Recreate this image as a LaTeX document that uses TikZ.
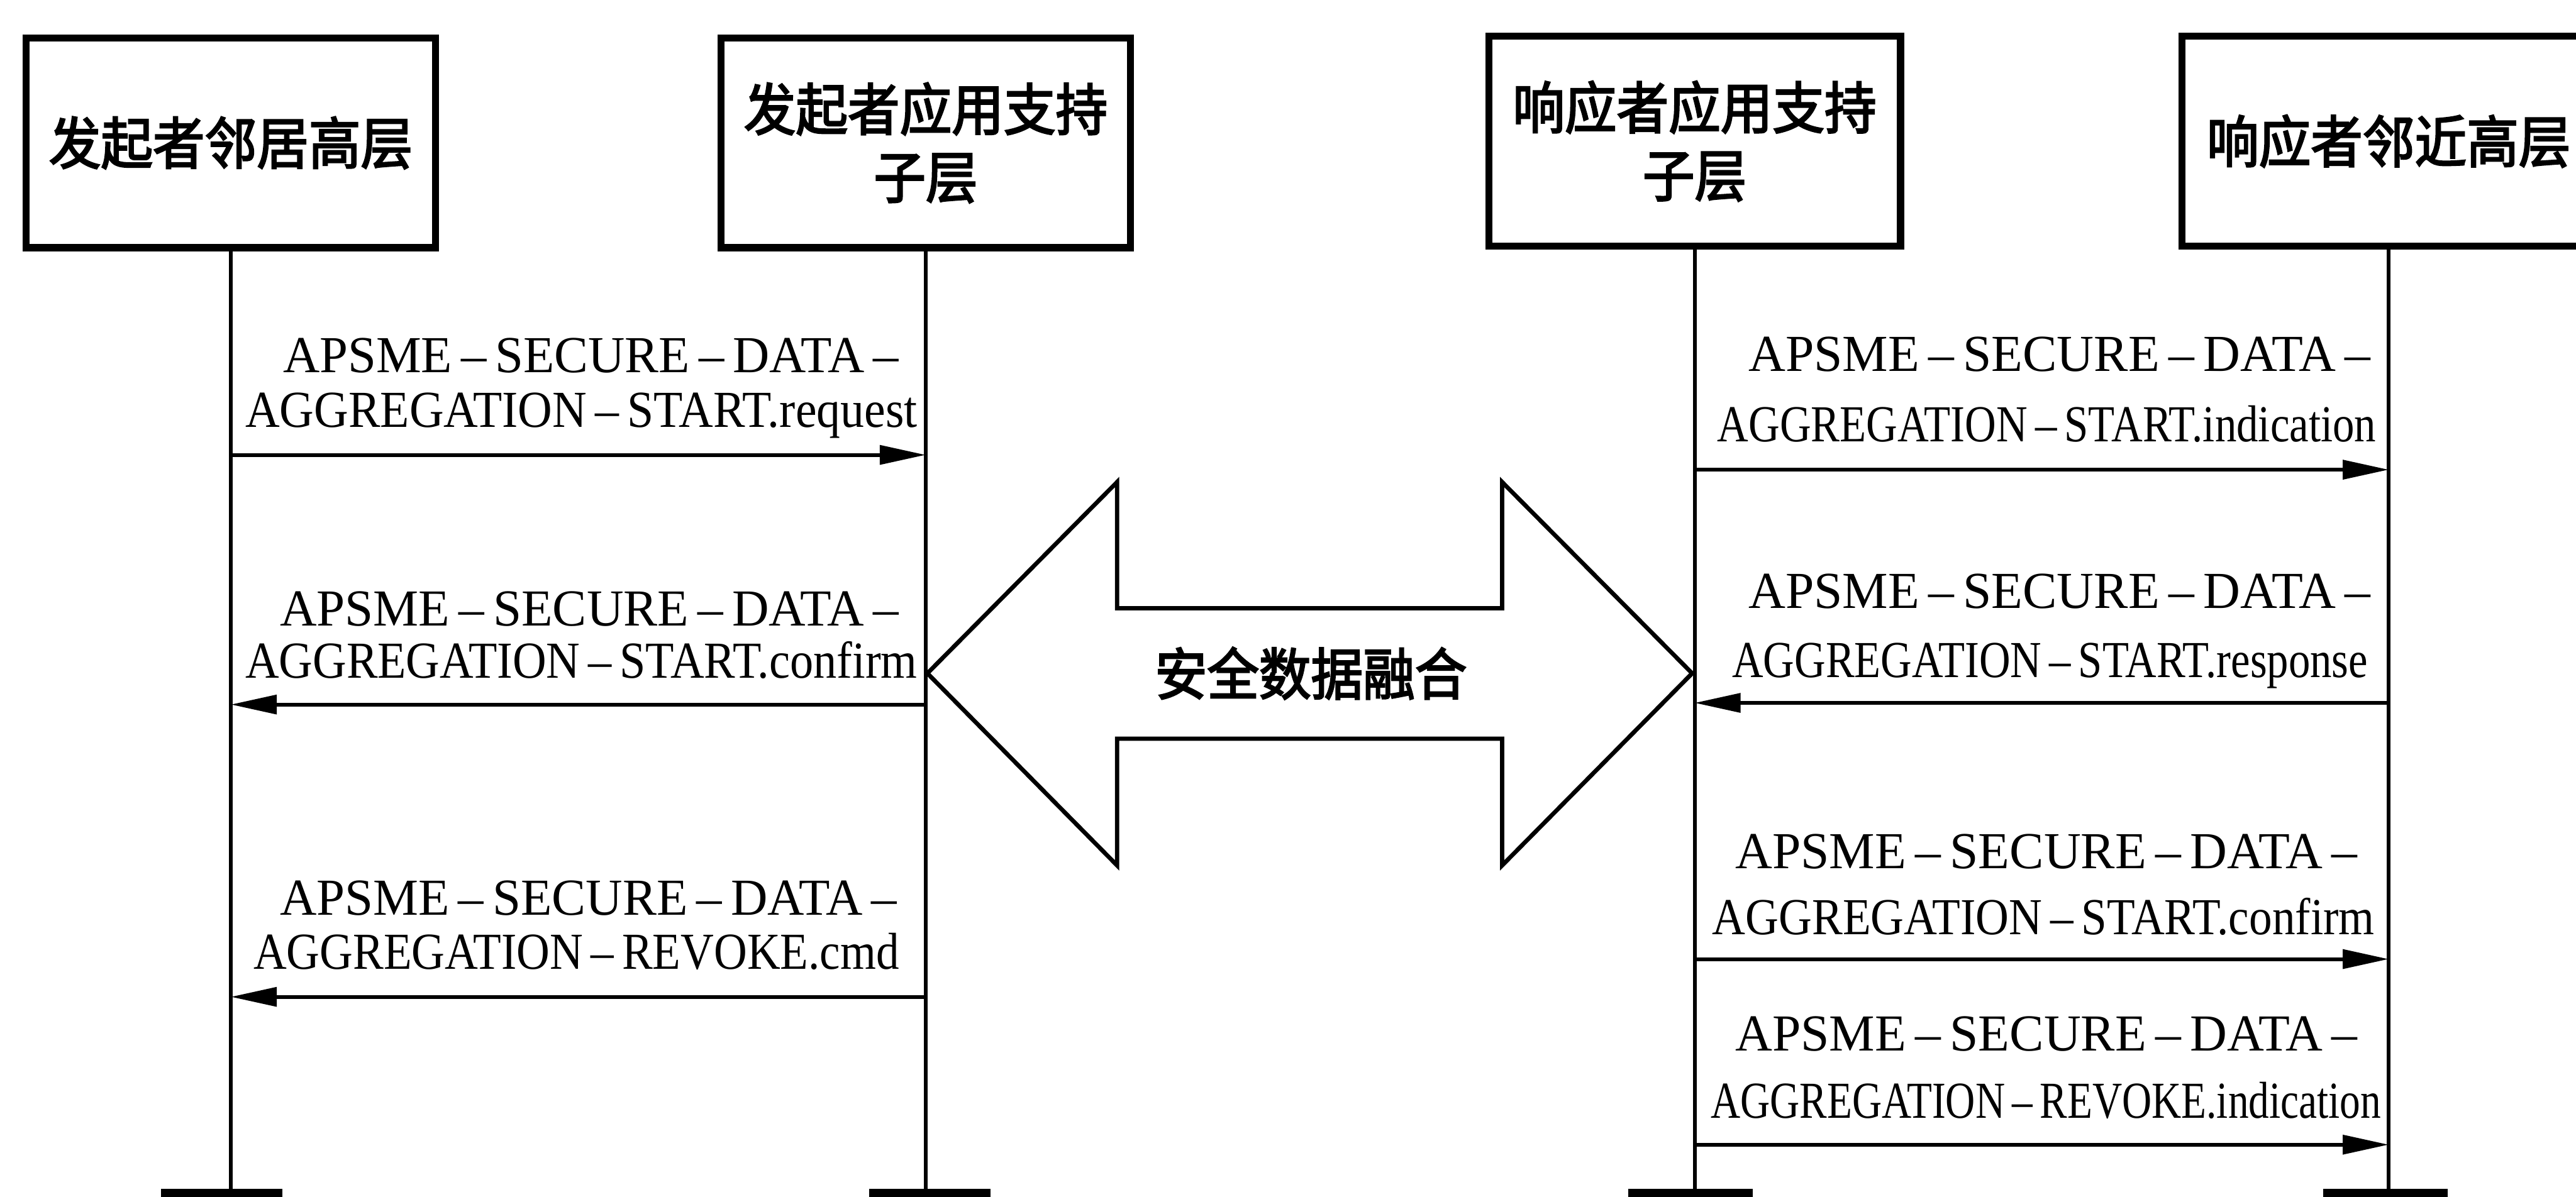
\documentclass[tikz,border=0pt]{standalone}
\usepackage{fontspec}
\usepackage{graphicx}
\setmainfont{Liberation Serif}
\newfontfamily\cjk[FakeBold=3]{Noto Sans CJK SC}
\usetikzlibrary{arrows.meta}
\newlength\upx
\setlength\upx{0.02cm}
\newcommand\dsh{\makebox[0.85em]{\textendash}}
\newcommand\fitw[2]{\resizebox{#1\upx}{\height}{#2}}
\newcommand\tallcjk[1]{\scalebox{1}[1.08]{#1}}
\begin{document}
\begin{tikzpicture}[x=0.02cm,y=-0.02cm,
  layer/.style={draw, line width=4.3\upx, minimum width=249\upx, minimum height=127.7\upx,
    inner sep=0pt, align=center, font=\cjk\fontsize{18}{23.5}\selectfont},
  life/.style={line width=2.3\upx},
  msgarrow/.style={line width=2.3\upx, -{Triangle[length=0.56cm, width=0.23cm]}},
  msg/.style={inner sep=0pt, anchor=base west, font=\fontsize{18}{20}\selectfont},
  endbar/.style={fill=black},
  bigarrow/.style={draw, fill=white, line width=2.6\upx, line join=miter},
  fuslabel/.style={inner sep=0pt, font=\cjk\fontsize{18}{20}\selectfont}
]
\useasboundingbox (0,0) rectangle (1568,728.7);
\clip (0,0) rectangle (1568,728.7);
\fill[white] (0,0) rectangle (1568,728.7);

% layer boxes
\node[layer] (b1) at (140.5,87) {\tallcjk{发起者邻居高层}};
\node[layer] (b2) at (563.5,87) {\tallcjk{发起者应用支持}\\\tallcjk{子层}};
\node[layer, minimum width=250.7\upx] (b3) at (1031.5,86) {\tallcjk{响应者应用支持}\\\tallcjk{子层}};
\node[layer, minimum width=251.7\upx] (b4) at (1454,86) {\tallcjk{响应者邻近高层}};

% lifeline ends
\coordinate (e1) at (140.5,724);
\coordinate (e2) at (563.5,724);
\coordinate (e3) at (1031.5,724);
\coordinate (e4) at (1454,724);
\draw[life] (b1.south) -- (e1);
\draw[life] (b2.south) -- (e2);
\draw[life] (b3.south) -- (e3);
\draw[life] (b4.south) -- (e4);
\fill[endbar] (98,724) rectangle (172,740);
\fill[endbar] (529,724) rectangle (603,740);
\fill[endbar] (991,724) rectangle (1067,740);
\fill[endbar] (1414,724) rectangle (1490,740);

% big double arrow
\draw[bigarrow] (564.5,410) -- (680,293.5) -- (680,370.4) -- (914.3,370.4) -- (914.3,293.5)
  -- (1030,410) -- (914.3,527) -- (914.3,449.8) -- (680,449.8) -- (680,527) -- cycle;
\node[fuslabel] (fus) at (798,410) {\tallcjk{安全数据融合}};

% message arrows
\coordinate (a1s) at (140.5,277);  \coordinate (a1e) at (563.5,277);
\coordinate (a2s) at (563.5,429);  \coordinate (a2e) at (140.5,429);
\coordinate (a5s) at (563.5,607);  \coordinate (a5e) at (140.5,607);
\coordinate (a3s) at (1031.5,286); \coordinate (a3e) at (1454,286);
\coordinate (a4s) at (1454,428);   \coordinate (a4e) at (1031.5,428);
\coordinate (a6s) at (1031.5,584); \coordinate (a6e) at (1454,584);
\coordinate (a7s) at (1031.5,697); \coordinate (a7e) at (1454,697);
\draw[msgarrow] (a1s) -- (a1e);
\draw[msgarrow] (a2s) -- (a2e);
\draw[msgarrow] (a5s) -- (a5e);
\draw[msgarrow] (a3s) -- (a3e);
\draw[msgarrow] (a4s) -- (a4e);
\draw[msgarrow] (a6s) -- (a6e);
\draw[msgarrow] (a7s) -- (a7e);

% message labels
\node[msg] (m1a) at (172,227) {\fitw{380}{APSME\dsh SECURE\dsh DATA\dsh}};
\node[msg] (m1b) at (149,260) {\fitw{409}{AGGREGATION\dsh START.request}};
\node[msg] (m2a) at (170,381) {\fitw{382}{APSME\dsh SECURE\dsh DATA\dsh}};
\node[msg] (m2b) at (149,413) {\fitw{409}{AGGREGATION\dsh START.confirm}};
\node[msg] (m5a) at (170,557) {\fitw{381}{APSME\dsh SECURE\dsh DATA\dsh}};
\node[msg] (m5b) at (154,590) {\fitw{393}{AGGREGATION\dsh REVOKE.cmd}};
\node[msg] (m3a) at (1064,226) {\fitw{384}{APSME\dsh SECURE\dsh DATA\dsh}};
\node[msg] (m3b) at (1045,269) {\fitw{401}{AGGREGATION\dsh START.indication}};
\node[msg] (m4a) at (1064,370.5) {\fitw{384}{APSME\dsh SECURE\dsh DATA\dsh}};
\node[msg] (m4b) at (1054,412.5) {\fitw{387}{AGGREGATION\dsh START.response}};
\node[msg] (m6a) at (1056,529) {\fitw{384}{APSME\dsh SECURE\dsh DATA\dsh}};
\node[msg] (m6b) at (1042,569) {\fitw{403}{AGGREGATION\dsh START.confirm}};
\node[msg] (m7a) at (1056,640) {\fitw{384}{APSME\dsh SECURE\dsh DATA\dsh}};
\node[msg] (m7b) at (1041,681) {\fitw{408}{AGGREGATION\dsh REVOKE.indication}};
\end{tikzpicture}
\end{document}
